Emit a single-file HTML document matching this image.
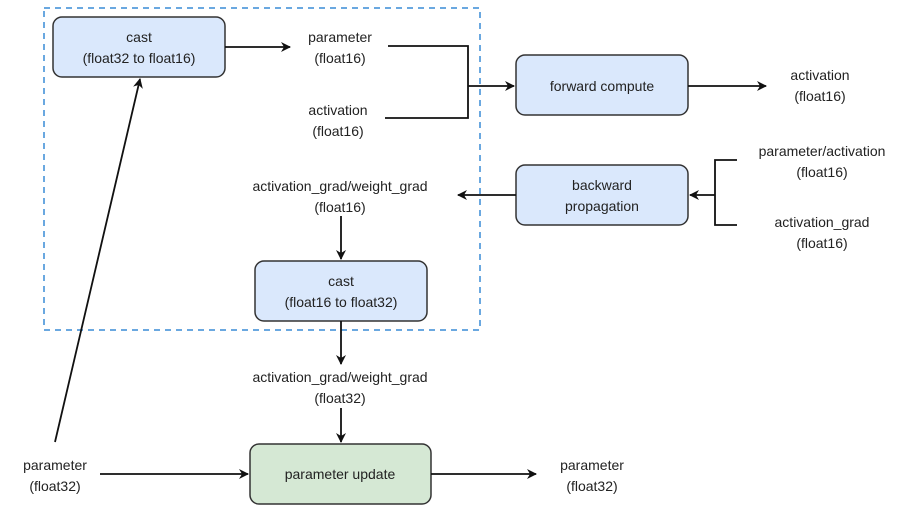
<!DOCTYPE html>
<html><head><meta charset="utf-8"><style>
html,body{margin:0;padding:0;background:#fff;}
svg{display:block;}
text{font-family:"Liberation Sans",sans-serif;font-size:14px;fill:#222;text-anchor:middle;}
</style></head><body>
<svg width="912" height="507" viewBox="0 0 912 507" xmlns="http://www.w3.org/2000/svg">
<defs>
<marker id="a" markerWidth="10" markerHeight="10" refX="9" refY="5" orient="auto" markerUnits="userSpaceOnUse">
<path d="M0,0 L10,5 L0,10 L3,5 Z" fill="#111"/></marker>
</defs>
<rect x="44" y="8" width="436" height="322" fill="none" stroke="#6aa8e0" stroke-width="2" stroke-dasharray="6,5"/>
<g stroke="#333" stroke-width="1.5">
<rect x="53" y="17" width="172" height="60" rx="9" fill="#dae8fc"/>
<rect x="516" y="55" width="172" height="60" rx="9" fill="#dae8fc"/>
<rect x="516" y="165" width="172" height="60" rx="9" fill="#dae8fc"/>
<rect x="255" y="261" width="172" height="60" rx="9" fill="#dae8fc"/>
<rect x="250" y="444" width="181" height="60" rx="9" fill="#d5e8d4"/>
</g>
<g stroke="#111" stroke-width="1.8" fill="none">
<line x1="225" y1="47" x2="290" y2="47" marker-end="url(#a)"/>
<polyline points="388,46 468,46 468,118 385,118"/>
<line x1="468" y1="86" x2="514" y2="86" marker-end="url(#a)"/>
<line x1="688" y1="86" x2="766" y2="86" marker-end="url(#a)"/>
<polyline points="737,160 715,160 715,225 737,225"/>
<line x1="715" y1="195" x2="690" y2="195" marker-end="url(#a)"/>
<line x1="516" y1="195" x2="458" y2="195" marker-end="url(#a)"/>
<line x1="341" y1="216" x2="341" y2="259" marker-end="url(#a)"/>
<line x1="341" y1="321" x2="341" y2="364" marker-end="url(#a)"/>
<line x1="341" y1="408" x2="341" y2="442" marker-end="url(#a)"/>
<line x1="100" y1="474" x2="248" y2="474" marker-end="url(#a)"/>
<line x1="431" y1="474" x2="536" y2="474" marker-end="url(#a)"/>
<line x1="55" y1="442" x2="140" y2="79" marker-end="url(#a)"/>
</g>
<text x="139" y="42">cast</text><text x="139" y="63">(float32 to float16)</text>
<text x="340" y="42">parameter</text><text x="340" y="63">(float16)</text>
<text x="338" y="115">activation</text><text x="338" y="136">(float16)</text>
<text x="602" y="91">forward compute</text>
<text x="820" y="80">activation</text><text x="820" y="101">(float16)</text>
<text x="822" y="156">parameter/activation</text><text x="822" y="177">(float16)</text>
<text x="822" y="227">activation_grad</text><text x="822" y="248">(float16)</text>
<text x="602" y="190">backward</text><text x="602" y="211">propagation</text>
<text x="340" y="191">activation_grad/weight_grad</text><text x="340" y="212">(float16)</text>
<text x="341" y="286">cast</text><text x="341" y="307">(float16 to float32)</text>
<text x="340" y="382">activation_grad/weight_grad</text><text x="340" y="403">(float32)</text>
<text x="340" y="479">parameter update</text>
<text x="55" y="470">parameter</text><text x="55" y="491">(float32)</text>
<text x="592" y="470">parameter</text><text x="592" y="491">(float32)</text>
</svg>
</body></html>
